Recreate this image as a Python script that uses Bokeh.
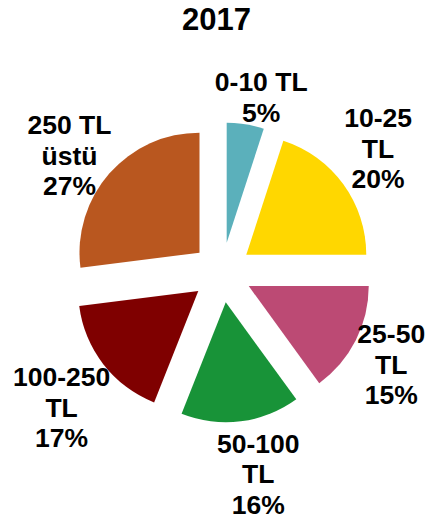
import numpy as np
from bokeh.plotting import figure
from bokeh.models import ColumnDataSource, Range1d
from bokeh.core.properties import value
from bokeh.embed import file_html
from bokeh.resources import INLINE

# ---- data ----
title_text = "2017"
categories = ["0-10 TL", "10-25 TL", "25-50 TL", "50-100 TL", "100-250 TL", "250 TL üstü"]
label_lines = [["0-10 TL"], ["10-25", "TL"], ["25-50", "TL"], ["50-100", "TL"], ["100-250", "TL"], ["250 TL", "üstü"]]
percents = [5, 20, 15, 16, 17, 27]
colors = ["#5BB0BB", "#FFD700", "#BC4A74", "#189338", "#7F0000", "#B9571F"]

# ---- layout (data units = pixels, y measured upward from bottom) ----
W, H = 433, 525
CX, CY = 221.5, H - 272.0   # pie centre
R = 120.0                   # radius
EXPLODE = 30.0              # explosion offset
LABEL_R = 143.0             # distance to nearest edge of label box
FS = 26.5                   # label font size px
LH = 30.4                   # label line height px
FONT = "Liberation Sans"
# manual label nudges (px right, px up), like dragged Excel data labels
NUDGE = [(11, -3), (-3.5, 8), (-3.5, -4), (12, -10), (5, -7), (1, -18.5)]

CHAR_W = {c: 0.556 for c in "0123456789"}
CHAR_W.update({"-": 0.333, " ": 0.278, "T": 0.611, "L": 0.611, "%": 0.889,
               "ü": 0.611, "s": 0.556, "t": 0.333})

def text_w(s):
    return sum(CHAR_W.get(ch, 0.556) for ch in s) * FS

vals = np.array(percents, dtype=float)
frac = vals / vals.sum()
cum_end = np.cumsum(frac)
cum_start = cum_end - frac
# clockwise from 12 o'clock
start_angle = np.pi / 2 - 2 * np.pi * cum_end
end_angle = np.pi / 2 - 2 * np.pi * cum_start
mid = (start_angle + end_angle) / 2
ux, uy = np.cos(mid), np.sin(mid)

wedges = ColumnDataSource(dict(
    x=CX + EXPLODE * ux, y=CY + EXPLODE * uy,
    start=start_angle, end=end_angle, color=colors, cat=categories))

p = figure(width=W, height=H, output_backend="svg", toolbar_location=None,
           x_range=Range1d(0, W), y_range=Range1d(0, H),
           x_axis_type=None, y_axis_type=None, min_border=0,
           outline_line_color=None, background_fill_color="white",
           border_fill_color="white")
p.grid.visible = False

p.wedge(x="x", y="y", radius=R, start_angle="start", end_angle="end",
        direction="anticlock", fill_color="color", line_color=None, source=wedges)

# labels
lx, ly, lt = [], [], []
for i in range(len(percents)):
    lines = label_lines[i] + [f"{percents[i]}%"]
    n = len(lines)
    w = max(text_w(s) for s in lines)
    h = n * LH
    support = abs(ux[i]) * w / 2 + abs(uy[i]) * h / 2
    bx = CX + (LABEL_R + support) * ux[i] + NUDGE[i][0]
    by = CY + (LABEL_R + support) * uy[i] + NUDGE[i][1]
    for j, s in enumerate(lines):
        lx.append(bx)
        ly.append(by + (n - 1) / 2 * LH - j * LH)
        lt.append(s)

p.text(x=lx, y=ly, text=lt, text_align="center", text_baseline="middle",
       text_font=value(FONT), text_font_style="bold", text_font_size=f"{FS}px",
       text_color="black")

p.text(x=[216], y=[H - 18.3], text=[title_text], text_align="center",
       text_baseline="middle", text_font=value(FONT), text_font_style="bold",
       text_font_size="31px", text_color="black")

open("out.html", "w").write(file_html(p, INLINE))
